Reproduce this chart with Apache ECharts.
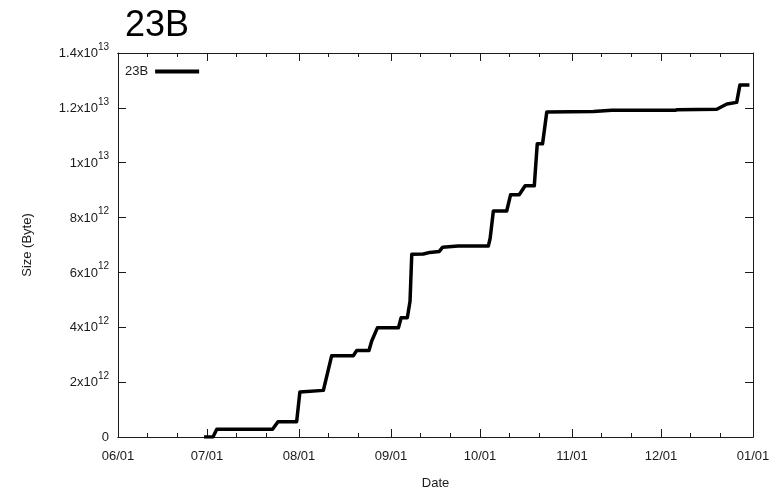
<!DOCTYPE html>
<html>
<head>
<meta charset="utf-8">
<script src="https://cdn.jsdelivr.net/npm/echarts@6/dist/echarts.min.js"></script>
<style>html,body{margin:0;padding:0;background:#fff}#c{width:775px;height:495px}</style>
</head>
<body>
<div id="c"></div>
<script>
// ---- data ----
const seriesName = '23B';
const dates = [
  '2014-06-30 00:00','2014-07-03 00:00','2014-07-04 07:00','2014-07-23 02:00','2014-07-24 22:00',
  '2014-07-31 05:00','2014-08-01 07:00','2014-08-09 05:00','2014-08-12 00:00','2014-08-19 07:00',
  '2014-08-20 10:00','2014-08-24 14:00','2014-08-25 12:00','2014-08-27 10:00','2014-09-03 12:00',
  '2014-09-04 10:00','2014-09-06 12:00','2014-09-07 10:00','2014-09-08 00:00','2014-09-11 22:00',
  '2014-09-14 02:00','2014-09-17 05:00','2014-09-18 10:00','2014-09-23 14:00','2014-10-03 19:00',
  '2014-10-04 10:00','2014-10-05 12:00','2014-10-10 00:00','2014-10-11 07:00','2014-10-14 05:00',
  '2014-10-16 05:00','2014-10-19 07:00','2014-10-20 07:00','2014-10-22 02:00','2014-10-23 12:00',
  '2014-11-08 05:00','2014-11-14 10:00','2014-12-05 17:00','2014-12-06 10:00','2014-12-19 19:00',
  '2014-12-23 05:00','2014-12-26 12:00','2014-12-27 14:00','2014-12-30 19:00'
];
const sizes = [
  0.0e12, 0.0e12, 0.28e12, 0.28e12, 0.56e12,
  0.56e12, 1.64e12, 1.70e12, 2.96e12, 2.96e12,
  3.15e12, 3.15e12, 3.50e12, 3.98e12, 3.98e12,
  4.35e12, 4.35e12, 4.95e12, 6.66e12, 6.67e12,
  6.73e12, 6.76e12, 6.92e12, 6.96e12, 6.96e12,
  7.24e12, 8.24e12, 8.24e12, 8.83e12, 8.83e12,
  9.16e12, 9.16e12, 10.69e12, 10.69e12, 11.85e12,
  11.87e12, 11.91e12, 11.91e12, 11.93e12, 11.95e12,
  12.14e12, 12.20e12, 12.83e12, 12.83e12
];
const xMin = '2014-06-01';
const xMax = '2015-01-01';
const majorTickDates = ['2014-06-01','2014-07-01','2014-08-01','2014-09-01','2014-10-01','2014-11-01','2014-12-01','2015-01-01'];
const minorTickDates = ['2014-06-11','2014-06-21','2014-07-11','2014-07-21','2014-08-11','2014-08-21','2014-09-11','2014-09-21',
  '2014-10-11','2014-10-21','2014-11-11','2014-11-21','2014-12-11','2014-12-21'];
const yMin = 0, yMax = 1.4e13, yStep = 2e12;

// ---- chart ----
const P = s => +echarts.time.parse(s);
const font = '"Liberation Sans", Arial, sans-serif';
const ink = '#1a1a1a';
const chart = echarts.init(document.getElementById('c'), null, {renderer: 'canvas'});

const majors = majorTickDates.map(P);
const minors = minorTickDates.map(P);

function yFmt(v) {
  if (v === 0) return '0';
  const e = Math.floor(Math.log10(v) + 1e-9);
  const m = +(v / Math.pow(10, e)).toFixed(2);
  return '{b|' + m + 'x10}{sup|' + e + '}';
}
function two(n) { return (n < 10 ? '0' : '') + n; }
function xFmt(v) {
  const d = new Date(v);
  return two(d.getMonth() + 1) + '/' + two(d.getDate());
}

const baseX = {
  type: 'value', gridIndex: 0, min: P(xMin), max: P(xMax), scale: true,
  axisLine: {show: true, onZero: false, lineStyle: {color: ink, width: 1}},
  splitLine: {show: false}
};

chart.setOption({
  animation: false,
  backgroundColor: '#fff',
  title: {
    text: seriesName, left: 120, top: 3,
    textStyle: {fontFamily: font, fontSize: 36, fontWeight: 'normal', color: '#000'}
  },
  legend: {
    show: true, left: 120, top: 60, align: 'right', itemWidth: 44, itemHeight: 4, itemGap: 10,
    icon: 'rect',
    textStyle: {fontFamily: font, fontSize: 13, color: ink, padding: [0, 2, 0, 0]},
    data: [{name: seriesName, itemStyle: {color: '#000'}}]
  },
  grid: {left: 118, right: 22, top: 53, bottom: 55, containLabel: false},
  xAxis: [
    Object.assign({}, baseX, {
      position: 'bottom',
      name: 'Date', nameLocation: 'middle', nameGap: 40,
      nameTextStyle: {fontFamily: font, fontSize: 13, color: ink},
      axisTick: {show: true, inside: true, length: 8, lineStyle: {color: ink}, customValues: majors},
      axisLabel: {show: true, margin: 13, fontFamily: font, fontSize: 13, color: ink, customValues: majors,
        formatter: xFmt, showMinLabel: true, showMaxLabel: true}
    }),
    Object.assign({}, baseX, {
      position: 'bottom',
      axisTick: {show: true, inside: true, length: 4, lineStyle: {color: ink}, customValues: minors},
      axisLabel: {show: false}
    }),
    Object.assign({}, baseX, {
      position: 'top',
      axisTick: {show: true, inside: true, length: 8, lineStyle: {color: ink}, customValues: majors},
      axisLabel: {show: false}
    }),
    Object.assign({}, baseX, {
      position: 'top',
      axisTick: {show: true, inside: true, length: 4, lineStyle: {color: ink}, customValues: minors},
      axisLabel: {show: false}
    })
  ],
  yAxis: [
    {
      type: 'value', position: 'left', min: yMin, max: yMax, interval: yStep,
      name: 'Size (Byte)', nameLocation: 'middle', nameGap: 84,
      nameTextStyle: {fontFamily: font, fontSize: 13, color: ink},
      axisLine: {show: true, lineStyle: {color: ink}},
      axisTick: {show: true, inside: true, length: 8, lineStyle: {color: ink}},
      splitLine: {show: false},
      axisLabel: {
        margin: 9, fontFamily: font, fontSize: 13, color: ink, formatter: yFmt,
        rich: {
          b: {fontFamily: font, fontSize: 13, color: ink, lineHeight: 14, verticalAlign: 'bottom'},
          sup: {fontFamily: font, fontSize: 10, color: ink, lineHeight: 10, verticalAlign: 'bottom', padding: [0, 0, 8, 0]}
        }
      }
    },
    {
      type: 'value', position: 'right', min: yMin, max: yMax, interval: yStep,
      axisLine: {show: true, lineStyle: {color: ink}},
      axisTick: {show: true, inside: true, length: 8, lineStyle: {color: ink}},
      splitLine: {show: false},
      axisLabel: {show: false}
    }
  ],
  series: [{
    name: seriesName, type: 'line', xAxisIndex: 0, yAxisIndex: 0,
    showSymbol: false, symbol: 'none',
    lineStyle: {color: '#000', width: 3.5, join: 'round'},
    itemStyle: {color: '#000'},
    data: dates.map((d, i) => [P(d), sizes[i]])
  }]
});
</script>
</body>
</html>
